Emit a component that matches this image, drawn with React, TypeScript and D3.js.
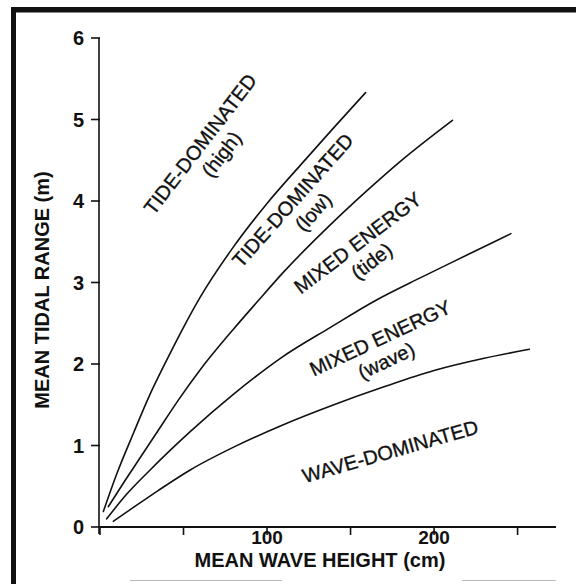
import React from "react";
import * as d3 from "d3";

const W = 576;
const H = 584;

// Axis ticks
const xTicks = [0, 50, 100, 150, 200, 250];
const xTickLabels = ["", "", "100", "", "200", ""];
const yTicks = [0, 1, 2, 3, 4, 5, 6];

// Regime boundaries: mean wave height (cm) vs mean tidal range (m)
const highLowX = [2, 10, 20, 30, 40, 50, 60, 80, 100, 120, 140, 159];
const highLowY = [0.19, 0.65, 1.15, 1.63, 2.05, 2.45, 2.82, 3.44, 3.97, 4.44, 4.9, 5.33];

const lowMixedX = [5, 15, 25, 35, 47, 60, 80, 94, 110, 138, 160, 180, 211];
const lowMixedY = [0.25, 0.57, 0.88, 1.19, 1.56, 1.93, 2.43, 2.76, 3.13, 3.71, 4.13, 4.49, 4.99];

const mixedTideWaveX = [4, 15, 30, 54, 80, 108, 138, 165, 192, 220, 246];
const mixedTideWaveY = [0.1, 0.38, 0.7, 1.17, 1.63, 2.07, 2.45, 2.78, 3.06, 3.34, 3.6];

const mixedWaveDomX = [8, 20, 35, 54, 80, 108, 140, 170, 200, 230, 257];
const mixedWaveDomY = [0.07, 0.24, 0.45, 0.7, 0.98, 1.24, 1.5, 1.72, 1.92, 2.07, 2.18];

// Regime names and where they sit (cm, m), with text angle in degrees
const regionLine1 = ["TIDE-DOMINATED", "TIDE-DOMINATED", "MIXED ENERGY", "MIXED ENERGY", "WAVE-DOMINATED"];
const regionLine2 = ["(high)", "(low)", "(tide)", "(wave)", ""];
const regionCm = [59.9, 115.3, 154.2, 167.7, 173.7];
const regionM = [4.7, 4.01, 3.49, 2.32, 0.93];
const regionAngle = [-52.5, -48.4, -37.2, -25, -16];
const regionSubShift = [5, 5, 0, -4, 0];

const FONT = "'Liberation Sans', Arial, Helvetica, sans-serif";

export default function App() {
  const x = d3.scaleLinear().domain([0, 273]).range([100, 556]);
  const y = d3.scaleLinear().domain([0, 6]).range([527, 38]);

  const line = d3
    .line<[number, number]>()
    .x((d) => x(d[0]))
    .y((d) => y(d[1]))
    .curve(d3.curveMonotoneX);

  const curves = [
    [highLowX, highLowY],
    [lowMixedX, lowMixedY],
    [mixedTideWaveX, mixedTideWaveY],
    [mixedWaveDomX, mixedWaveDomY],
  ].map(([xs, ys]) => xs.map((v, i) => [v, ys[i]] as [number, number]));

  return (
    <svg
      width={W}
      height={H}
      viewBox={`0 0 ${W} ${H}`}
      style={{ position: "absolute", left: 0, top: 0, background: "#fff" }}
    >
      <rect x={0} y={0} width={W} height={H} fill="#fff" />
      {/* frame */}
      <rect x={11} y={7} width={5} height={H - 7} fill="#111" />
      <rect x={11} y={7} width={W - 11} height={5.5} fill="#111" />
      <line x1={130} x2={282} y1={580.5} y2={580.5} stroke="#bbb" strokeWidth={1} />
      <line x1={462} x2={556} y1={580.5} y2={580.5} stroke="#bbb" strokeWidth={1} />

      {/* axes */}
      <line x1={x(0)} x2={x(273)} y1={y(0)} y2={y(0)} stroke="#111" strokeWidth={1.8} />
      <line x1={x(0) - 1} x2={x(0) - 1} y1={y(6)} y2={y(0) + 7} stroke="#111" strokeWidth={1.6} />
      {yTicks.map((t) => (
        <g key={`yt${t}`}>
          <line x1={x(0) - 9} x2={x(0)} y1={y(t)} y2={y(t)} stroke="#111" strokeWidth={1.6} />
          <text
            x={x(0) - 16}
            y={y(t)}
            dy="0.36em"
            textAnchor="end"
            fontFamily={FONT}
            fontWeight="bold"
            fontSize={20}
            fill="#111"
          >
            {t}
          </text>
        </g>
      ))}
      {xTicks.map((t, i) => (
        <g key={`xt${t}`}>
          <line x1={x(t)} x2={x(t)} y1={y(0)} y2={y(0) + 8} stroke="#111" strokeWidth={1.6} />
          {xTickLabels[i] && (
            <text
              x={x(t)}
              y={544}
              textAnchor="middle"
              fontFamily={FONT}
              fontWeight="bold"
              fontSize={19}
              fill="#111"
            >
              {xTickLabels[i]}
            </text>
          )}
        </g>
      ))}
      <text
        x={320}
        y={567}
        textAnchor="middle"
        fontFamily={FONT}
        fontWeight="bold"
        fontSize={20}
        fill="#111"
      >
        MEAN WAVE HEIGHT (cm)
      </text>
      <text
        transform={`translate(49,290) rotate(-90)`}
        textAnchor="middle"
        fontFamily={FONT}
        fontWeight="bold"
        fontSize={20}
        fill="#111"
      >
        MEAN TIDAL RANGE (m)
      </text>

      {/* regime boundaries */}
      {curves.map((pts, i) => (
        <path key={`c${i}`} d={line(pts) ?? ""} fill="none" stroke="#111" strokeWidth={1.6} strokeLinecap="round" />
      ))}

      {/* regime names */}
      {regionLine1.map((name, i) => (
        <g
          key={`r${i}`}
          transform={`translate(${x(regionCm[i])},${y(regionM[i])}) rotate(${regionAngle[i]})`}
          fontFamily={FONT}
          fontSize={20}
          fill="#111"
          textAnchor="middle"
        >
          <text x={0} y={0} dy="0.36em" stroke="#111" strokeWidth={0.35}>
            {name}
          </text>
          {regionLine2[i] && (
            <text x={regionSubShift[i]} y={23} dy="0.36em" stroke="#111" strokeWidth={0.35}>
              {regionLine2[i]}
            </text>
          )}
        </g>
      ))}
    </svg>
  );
}
